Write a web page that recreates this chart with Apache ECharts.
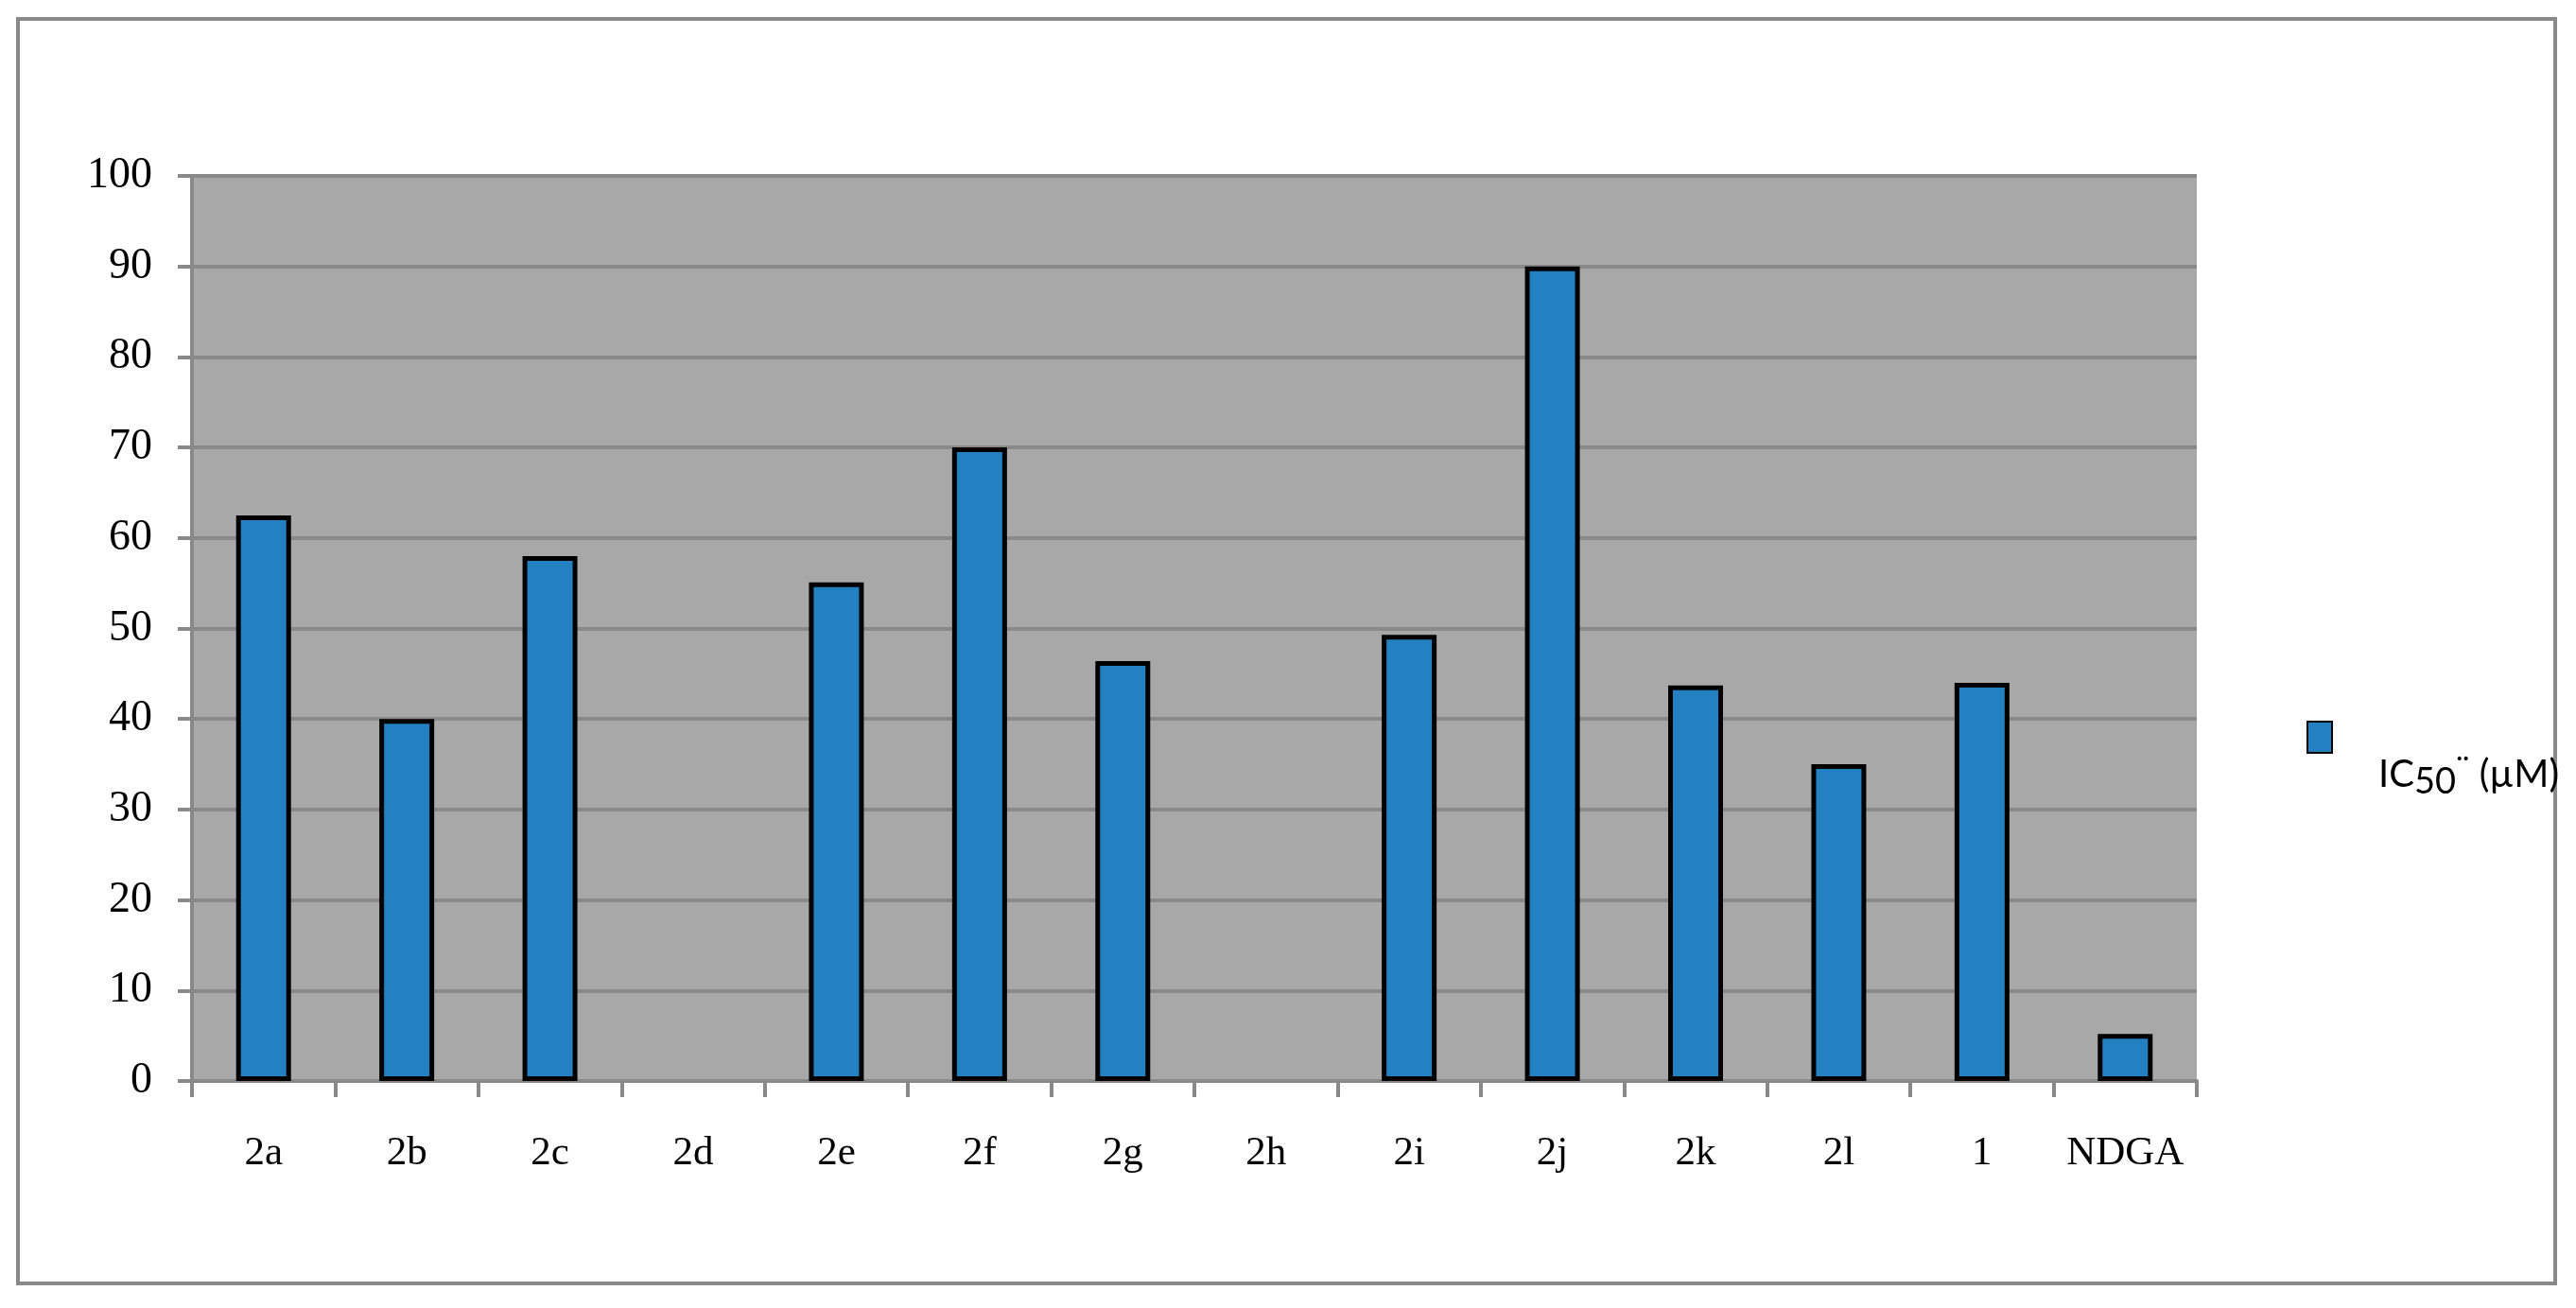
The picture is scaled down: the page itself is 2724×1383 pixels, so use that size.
<!DOCTYPE html>
<html>
<head>
<meta charset="utf-8">
<script src="https://cdn.jsdelivr.net/npm/echarts@6/dist/echarts.min.js"></script>
<style>
html, body { margin: 0; padding: 0; background: #fff; }
#chart { width: 2724px; height: 1383px; }
</style>
</head>
<body>
<div id="chart"></div>
<script>
var compounds = ['2a', '2b', '2c', '2d', '2e', '2f', '2g', '2h', '2i', '2j', '2k', '2l', '1', 'NDGA'];
var ic50 = [62.5, 40, 58, null, 55.1, 70, 46.4, null, 49.3, 90, 43.7, 35, 44, 5.2];
var seriesName = 'IC50';

var barColor = '#2381c1';
var gridGray = '#898989';

var option = {
    animation: false,
    backgroundColor: '#fff',
    graphic: [
        {
            type: 'rect',
            shape: {x: 19, y: 20, width: 2683, height: 1337},
            style: {fill: 'none', stroke: gridGray, lineWidth: 4}
        }
    ],
    grid: {
        left: 203,   //left
        top: 186,    //top
        right: 401,  //right
        bottom: 240, //down
        show: true,
        backgroundColor: '#a8a8a8',
        borderWidth: 0
    },
    legend: {
        left: 2434,
        top: 757,
        orient: 'vertical',
        itemWidth: 26,
        itemHeight: 33,
        icon: 'rect',
        data: [seriesName],
        formatter: function () {
            return '{m|IC}{s|50}{d|¨}{m| (µM)}';
        },
        textStyle: {
            padding: [80, 0, 0, 44],
            rich: {
                m: {fontFamily: 'Lato', fontSize: 40, color: '#000'},
                s: {fontFamily: 'Lato', fontSize: 38, color: '#000', padding: [14, 0, 0, 0]},
                d: {fontFamily: 'Lato', fontSize: 36, color: '#000', padding: [0, 0, 10, 0]}
            }
        }
    },
    xAxis: [
        {
            type: 'category',
            data: compounds,
            axisLine: {lineStyle: {color: gridGray, width: 4}},
            axisTick: {show: true, interval: 0, length: 17, lineStyle: {color: gridGray, width: 4}},
            axisLabel: {
                interval: 0,
                fontFamily: 'Liberation Serif',
                fontSize: 43,
                color: '#000',
                margin: 55
            }
        }
    ],
    yAxis: [
        {
            type: 'value',
            min: 0,
            max: 100,
            interval: 10,
            axisLine: {show: true, lineStyle: {color: gridGray, width: 4}},
            axisTick: {show: true, length: 15, lineStyle: {color: gridGray, width: 4}},
            splitLine: {lineStyle: {color: gridGray, width: 4}},
            axisLabel: {
                fontFamily: 'Liberation Serif',
                fontSize: 46,
                color: '#000',
                margin: 42
            }
        }
    ],
    series: [
        {
            name: seriesName,
            type: 'bar',
            data: ic50,
            barWidth: 58,
            itemStyle: {
                color: barColor,
                borderColor: '#000',
                borderWidth: 5
            }
        }
    ]
};

var myChart = echarts.init(document.getElementById('chart'));
myChart.setOption(option);
</script>
</body>
</html>
